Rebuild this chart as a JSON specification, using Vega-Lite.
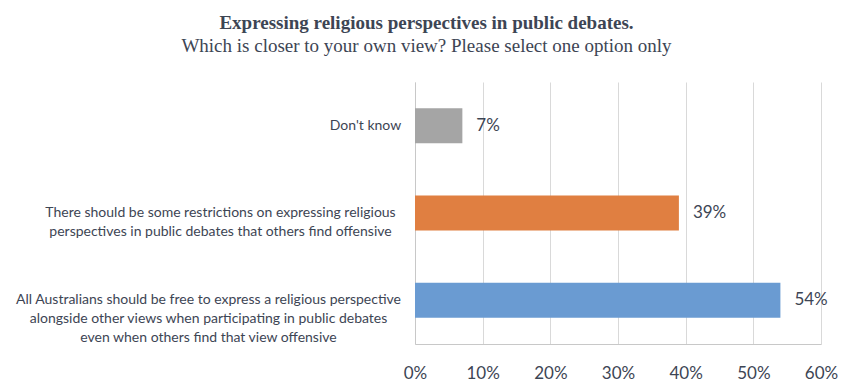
{
  "$schema": "https://vega.github.io/schema/vega-lite/v6.json",
  "width": 406,
  "height": 262,
  "autosize": {"type": "none"},
  "padding": {"left": 415, "top": 82, "right": 29, "bottom": 47},
  "background": "white",
  "title": {
    "text": "Expressing religious perspectives in public debates.",
    "subtitle": "Which is closer to your own view? Please select one option only",
    "anchor": "middle",
    "frame": "bounds",
    "font": "Liberation Serif",
    "fontSize": 19,
    "fontWeight": "bold",
    "color": "#3d4554",
    "subtitleFont": "Liberation Serif",
    "subtitleFontSize": 19,
    "subtitleColor": "#3d4554",
    "subtitlePadding": 4,
    "offset": 26
  },
  "data": {
    "values": [
      {"label": "Don't know", "value": 0.07, "key": "dk", "color": "#a5a5a5"},
      {"label": "There should be some restrictions on expressing religious|perspectives in public debates that others find offensive", "value": 0.39, "key": "restrict", "color": "#e07f41"},
      {"label": "All Australians should be free to express a religious perspective|alongside other views when participating in public debates|even when others find that view offensive", "value": 0.54, "key": "free", "color": "#6a9bd2"}
    ]
  },
  "encoding": {
    "y": {
      "field": "label",
      "type": "nominal",
      "sort": null,
      "scale": {"paddingInner": 0.6, "paddingOuter": 0.3},
      "axis": {
        "title": null,
        "ticks": false,
        "domainColor": "#c8c8c8",
        "labelFont": "Lato",
        "labelFontSize": 14,
        "labelColor": "#3d4554",
        "labelAlign": "center",
        "labelLimit": 600,
        "labelLineHeight": 19,
        "labelExpr": "split(datum.label, '|')",
        "labelPadding": {
          "condition": [
            {"test": "indexof(datum.value, 'All Australians') == 0", "value": 207},
            {"test": "indexof(datum.value, 'There should') == 0", "value": 195}
          ],
          "value": 50
        }
      }
    },
    "x": {
      "field": "value",
      "type": "quantitative",
      "scale": {"domain": [0, 0.6]},
      "axis": {
        "title": null,
        "format": ".0%",
        "values": [0, 0.1, 0.2, 0.3, 0.4, 0.5, 0.6],
        "labelOverlap": false,
        "labelFlush": false,
        "ticks": false,
        "domainColor": "#c8c8c8",
        "gridColor": "#d9d9d9",
        "labelFont": "Lato",
        "labelFontSize": 17,
        "labelColor": "#3d4554",
        "labelPadding": 21
      }
    }
  },
  "layer": [
    {
      "mark": {"type": "bar"},
      "encoding": {
        "color": {"field": "color", "type": "nominal", "scale": null}
      }
    },
    {
      "mark": {"type": "text", "align": "left", "dx": 14, "font": "Lato", "fontSize": 17, "color": "#3d4554"},
      "encoding": {
        "text": {"field": "value", "type": "quantitative", "format": ".0%"}
      }
    }
  ],
  "config": {"view": {"stroke": null}}
}
